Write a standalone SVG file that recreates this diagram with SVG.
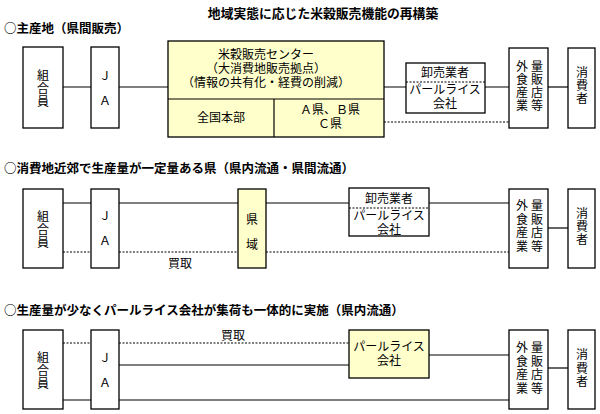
<svg xmlns="http://www.w3.org/2000/svg" width="600" height="414" viewBox="0 0 600 414">
<style>
text{font-family:"Liberation Sans","Noto Sans CJK JP",sans-serif;font-size:12px;fill:#000;text-anchor:middle}
.h{font-family:"Noto Sans CJK JP","Liberation Sans",sans-serif;font-weight:bold;text-anchor:start;font-size:12.5px}
.t{font-family:"Noto Sans CJK JP","Liberation Sans",sans-serif;font-weight:bold;font-size:12.8px}
.b{fill:#fff;stroke:#000;stroke-width:1.3}
.y{fill:#ffffcc;stroke:#000;stroke-width:1.3}
.s{stroke:#000;stroke-width:1.2;fill:none}
.d{stroke:#000;stroke-width:1.2;fill:none;stroke-dasharray:2 1.5}
</style>
<rect width="600" height="414" fill="#fff"/>
<text class="t" x="323" y="18">地域実態に応じた米穀販売機能の再構築</text>
<text class="h" x="4" y="33">○主産地（県間販売）</text>
<text class="h" x="4" y="173">○消費地近郊で生産量が一定量ある県（県内流通・県間流通）</text>
<text class="h" x="4" y="315">○生産量が少なくパールライス会社が集荷も一体的に実施（県内流通）</text>
<g id="connectors">
<line class="s" x1="63" y1="87" x2="168" y2="87"/>
<line class="s" x1="384" y1="87" x2="509" y2="87"/>
<line class="d" x1="384" y1="122" x2="509" y2="122"/>
<line class="s" x1="548" y1="87" x2="568" y2="87"/>
<line class="s" x1="63" y1="203" x2="509" y2="203"/>
<line class="d" x1="63" y1="252" x2="509" y2="252"/>
<line class="s" x1="548" y1="228" x2="568" y2="228"/>
<text x="180" y="268">買取</text>
<line class="d" x1="63" y1="343" x2="349" y2="343"/>
<line class="s" x1="119" y1="365" x2="349" y2="365"/>
<line class="s" x1="63" y1="400" x2="509" y2="400"/>
<line class="s" x1="429" y1="355" x2="509" y2="355"/>
<line class="s" x1="548" y1="368" x2="568" y2="368"/>
<text x="233" y="340">買取</text>
</g>
<g id="s1-kumiai"><rect class="b" x="23" y="47" width="40" height="81"/><text x="43" y="80">組<tspan x="43" dy="13">合</tspan><tspan x="43" dy="13">員</tspan></text></g>
<g id="s1-ja"><rect class="b" x="91" y="47" width="28" height="81"/><text x="105" y="80">Ｊ</text><text x="105" y="105">Ａ</text></g>
<g id="s1-center"><rect class="y" x="168" y="41" width="216" height="96"/><line class="s" x1="168" y1="99" x2="384" y2="99"/><line class="s" x1="274" y1="99" x2="274" y2="137"/>
<text x="266" y="59">米穀販売センター<tspan x="266" dy="14">（大消費地販売拠点）</tspan><tspan x="266" dy="14">（情報の共有化・経費の削減）</tspan></text>
<text x="221" y="122">全国本部</text><text x="330" y="114">Ａ県、Ｂ県<tspan x="330" dy="13.5">Ｃ県</tspan></text></g>
<g id="s1-oroshi"><rect class="b" x="406" y="63" width="79" height="50"/><line class="d" x1="406" y1="82" x2="485" y2="82"/><text x="445" y="77">卸売業者</text><text x="445" y="94">パールライス<tspan x="445" dy="14">会社</tspan></text></g>
<g id="s1-gaishoku"><rect class="b" x="509" y="48" width="39" height="80"/>
<text x="522" y="71">外<tspan x="522" dy="13">食</tspan><tspan x="522" dy="13">産</tspan><tspan x="522" dy="13">業</tspan></text>
<text x="537" y="71">量<tspan x="537" dy="13">販</tspan><tspan x="537" dy="13">店</tspan><tspan x="537" dy="13">等</tspan></text></g>
<g id="s1-shohi"><rect class="b" x="568" y="48" width="27" height="80"/><text x="582" y="77">消<tspan x="582" dy="13">費</tspan><tspan x="582" dy="13">者</tspan></text></g>

<g id="s2-kumiai"><rect class="b" x="23" y="189" width="40" height="79"/><text x="43" y="221">組<tspan x="43" dy="13">合</tspan><tspan x="43" dy="13">員</tspan></text></g>
<g id="s2-ja"><rect class="b" x="91" y="189" width="28" height="79"/><text x="105" y="220">Ｊ</text><text x="105" y="245">Ａ</text></g>
<g id="s2-kenniki"><rect class="y" x="238" y="189" width="28" height="79"/><text x="252" y="224">県</text><text x="252" y="249">域</text></g>
<g id="s2-oroshi"><rect class="b" x="349" y="188" width="80" height="48"/><line class="d" x1="349" y1="208" x2="429" y2="208"/><text x="389" y="203">卸売業者</text><text x="389" y="220">パールライス<tspan x="389" dy="13.5">会社</tspan></text></g>
<g id="s2-gaishoku"><rect class="b" x="509" y="189" width="39" height="79"/>
<text x="522" y="210">外<tspan x="522" dy="13.5">食</tspan><tspan x="522" dy="13.5">産</tspan><tspan x="522" dy="13.5">業</tspan></text>
<text x="537" y="210">量<tspan x="537" dy="13.5">販</tspan><tspan x="537" dy="13.5">店</tspan><tspan x="537" dy="13.5">等</tspan></text></g>
<g id="s2-shohi"><rect class="b" x="568" y="189" width="27" height="79"/><text x="582" y="218">消<tspan x="582" dy="13">費</tspan><tspan x="582" dy="13">者</tspan></text></g>

<g id="s3-kumiai"><rect class="b" x="23" y="330" width="40" height="79"/><text x="43" y="362">組<tspan x="43" dy="13">合</tspan><tspan x="43" dy="13">員</tspan></text></g>
<g id="s3-ja"><rect class="b" x="91" y="330" width="28" height="79"/><text x="105" y="362">Ｊ</text><text x="105" y="387">Ａ</text></g>
<g id="s3-pearl"><rect class="y" x="349" y="330" width="80" height="48"/><text x="389" y="351">パールライス<tspan x="389" dy="14">会社</tspan></text></g>
<g id="s3-gaishoku"><rect class="b" x="509" y="330" width="39" height="79"/>
<text x="522" y="352">外<tspan x="522" dy="13.5">食</tspan><tspan x="522" dy="13.5">産</tspan><tspan x="522" dy="13.5">業</tspan></text>
<text x="537" y="352">量<tspan x="537" dy="13.5">販</tspan><tspan x="537" dy="13.5">店</tspan><tspan x="537" dy="13.5">等</tspan></text></g>
<g id="s3-shohi"><rect class="b" x="568" y="330" width="27" height="79"/><text x="582" y="359">消<tspan x="582" dy="13.5">費</tspan><tspan x="582" dy="13.5">者</tspan></text></g>
</svg>
